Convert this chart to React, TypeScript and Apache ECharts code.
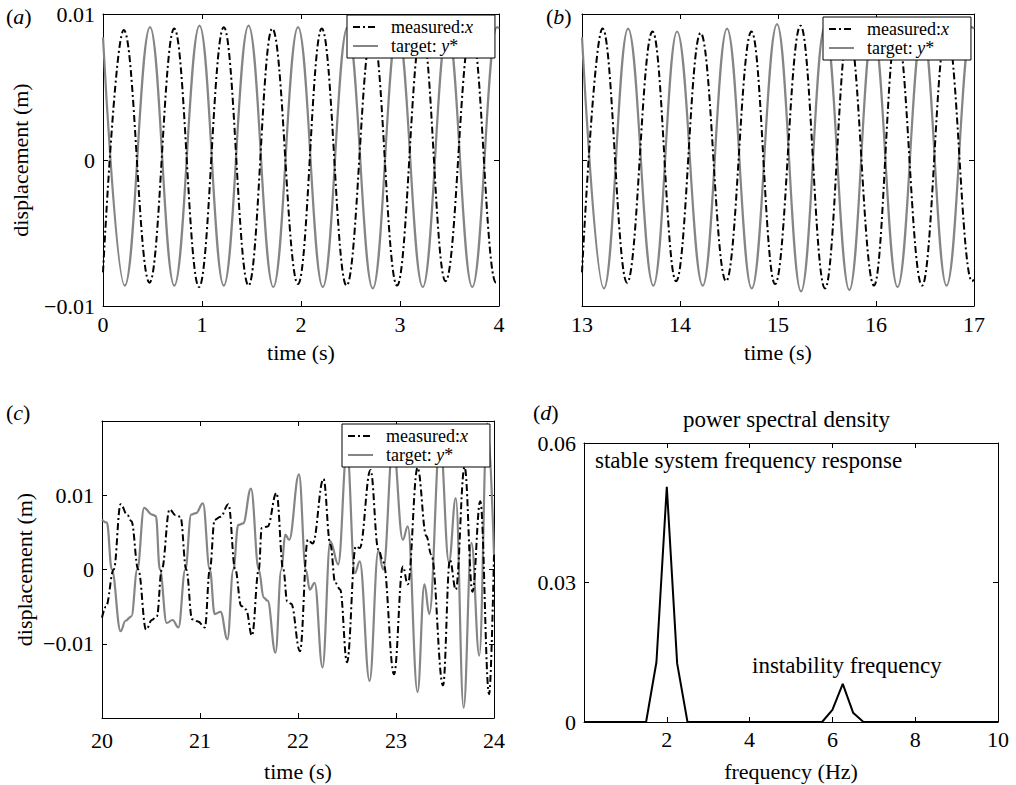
import React, { useEffect, useRef } from "react";
import * as echarts from "echarts";

const FONT = "'Liberation Serif', 'Times New Roman', Times, serif";
const GREY = "#858585";
const DASHDOT = [7, 3, 2, 3];

// ---- panel (a): 0-4 s ----
const aTargetT = [0, 0.22, 0.475, 0.72, 0.975, 1.22, 1.47, 1.72, 1.97, 2.22, 2.47, 2.725, 2.975, 3.23, 3.48, 3.73, 3.98, 4.0];
const aTargetV = [0.0084, -0.0086, 0.0091, -0.0086, 0.0092, -0.0086, 0.0092, -0.0087, 0.0091, -0.0087, 0.0091, -0.0088, 0.0091, -0.0087, 0.0091, -0.0087, 0.0091, 0.009];
const aMeasT = [0, 0.21, 0.47, 0.72, 0.97, 1.22, 1.47, 1.71, 1.97, 2.21, 2.46, 2.72, 2.97, 3.22, 3.46, 3.72, 3.97, 4.0];
const aMeasV = [-0.0077, 0.0089, -0.0084, 0.009, -0.0087, 0.0091, -0.0086, 0.009, -0.0085, 0.009, -0.0086, 0.009, -0.0086, 0.009, -0.0083, 0.009, -0.0084, -0.0083];

// ---- panel (b): 13-17 s ----
const bTargetT = [13.0, 13.224, 13.47, 13.728, 13.97, 14.232, 14.48, 14.732, 14.99, 15.235, 15.48, 15.728, 15.97, 16.22, 16.475, 16.72, 16.975, 17.0];
const bTargetV = [0.0084, -0.0088, 0.009, -0.0086, 0.0088, -0.0086, 0.009, -0.0088, 0.0093, -0.009, 0.0092, -0.0089, 0.0091, -0.0087, 0.0091, -0.0086, 0.0091, 0.009];
const bMeasT = [13.0, 13.21, 13.46, 13.72, 13.96, 14.21, 14.47, 14.73, 14.97, 15.23, 15.48, 15.72, 15.98, 16.21, 16.47, 16.72, 16.98, 17.0];
const bMeasV = [-0.0077, 0.009, -0.0084, 0.0088, -0.0083, 0.0087, -0.0083, 0.0088, -0.0085, 0.0092, -0.0088, 0.009, -0.0086, 0.009, -0.0086, 0.009, -0.0083, -0.0082];

// ---- panel (c): 20-24 s ----
const cTargetT = [20.0, 20.05, 20.1, 20.19, 20.24, 20.3, 20.36, 20.43, 20.51, 20.55, 20.59, 20.66, 20.72, 20.78, 20.85, 20.91, 20.96, 21.03, 21.1, 21.15, 21.21, 21.28, 21.34, 21.39, 21.44, 21.52, 21.6, 21.65, 21.69, 21.77, 21.83, 21.87, 21.91, 22.01, 22.08, 22.12, 22.17, 22.25, 22.33, 22.41, 22.5, 22.58, 22.63, 22.73, 22.82, 22.87, 22.97, 23.07, 23.12, 23.22, 23.29, 23.34, 23.45, 23.54, 23.61, 23.69, 23.77, 23.85, 23.93, 24.0];
const cTargetV = [0.0067, 0.0063, 0, -0.0083, -0.0069, -0.0063, 0, 0.0083, 0.0074, 0.0072, 0, -0.0072, -0.0068, -0.0078, 0, 0.0074, 0.0076, 0.0089, 0, -0.006, -0.0057, -0.0094, 0, 0.006, 0.0062, 0.0109, 0, -0.0038, -0.0042, -0.0112, 0, 0.0047, 0.004, 0.0128, 0, -0.0027, -0.0018, -0.0132, 0.0038, 0.0007, 0.0162, -0.0005, 0.0011, -0.015, 0.0025, 0.0, 0.017, 0.004, 0.0058, -0.0165, -0.002, -0.006, 0.0175, 0.001, 0.0096, -0.0186, 0.0036, -0.0116, 0.0197, 0.002];
const cMeasT = [20.0, 20.04, 20.12, 20.19, 20.26, 20.3, 20.37, 20.45, 20.51, 20.56, 20.61, 20.69, 20.75, 20.8, 20.86, 20.92, 20.98, 21.05, 21.1, 21.15, 21.21, 21.29, 21.36, 21.42, 21.47, 21.53, 21.6, 21.63, 21.69, 21.78, 21.85, 21.89, 21.93, 22.02, 22.1, 22.15, 22.26, 22.33, 22.38, 22.43, 22.5, 22.59, 22.63, 22.74, 22.82, 22.87, 22.98, 23.07, 23.12, 23.22, 23.31, 23.36, 23.48, 23.55, 23.61, 23.7, 23.78, 23.86, 23.95, 24.0];
const cMeasV = [-0.0065, -0.005, 0, 0.0088, 0.0073, 0.0065, 0, -0.0081, -0.0068, -0.0063, 0, 0.0081, 0.0073, 0.0071, 0, -0.0067, -0.007, -0.0078, 0, 0.0067, 0.0071, 0.0088, 0, -0.0049, -0.0054, -0.0089, 0, 0.0056, 0.0058, 0.0103, 0, -0.0043, -0.0046, -0.011, 0.004, 0.0035, 0.0122, 0.0034, -0.0018, -0.0027, -0.0125, 0.0031, 0.0029, 0.0134, 0.0027, 0.001, -0.0141, 0.0004, -0.002, 0.0137, 0.0045, 0.002, -0.0156, 0.0013, -0.0027, 0.0138, -0.003, 0.0092, -0.0168, 0.002];

// ---- panel (d): power spectral density ----
const psdF = [0, 1.5, 1.75, 2.0, 2.25, 2.5, 5.75, 6.0, 6.25, 6.5, 6.75, 10];
const psdV = [0, 0, 0.0129, 0.0506, 0.0126, 0, 0, 0.0026, 0.0082, 0.002, 0, 0];

const MEAS = "measured:x";
const TARG = "target: y*";

const zip = (t: number[], v: number[]) => t.map((x, i) => [x, v[i]]);

const fmt = (v: number) => {
  if (Math.abs(v) < 1e-9) return "0";
  const s = Math.abs(v).toFixed(2);
  return (v < 0 ? "\u2212" : "") + s;
};

const TXT = { color: "#000", fontFamily: FONT, fontSize: 22 };
const axLine = { show: true, onZero: false, lineStyle: { color: "#000", width: 1 } };
const axTick = { show: true, inside: true, length: 5, lineStyle: { color: "#000", width: 1 } };

function xPair(g: number, min: number, max: number, interval: number, name: string, nameGap: number, margin: number, formatter?: (v: number) => string) {
  return [
    {
      type: "value", gridIndex: g, min, max, interval, position: "bottom",
      axisLine: axLine, axisTick: axTick, splitLine: { show: false },
      axisLabel: { ...TXT, margin, formatter: formatter || ((v: number) => String(v)) },
      name, nameLocation: "middle", nameGap, nameTextStyle: { ...TXT },
    },
    {
      type: "value", gridIndex: g, min, max, interval, position: "top",
      axisLine: axLine, axisTick: axTick, splitLine: { show: false }, axisLabel: { show: false },
    },
  ];
}

function yPair(g: number, min: number, max: number, interval: number, showLabel: boolean, name: string, nameGap: number, formatter?: (v: number) => string) {
  return [
    {
      type: "value", gridIndex: g, min, max, interval, position: "left",
      axisLine: axLine, axisTick: axTick, splitLine: { show: false },
      axisLabel: { ...TXT, show: showLabel, margin: 8, formatter: formatter || fmt },
      name, nameLocation: "middle", nameGap, nameTextStyle: { ...TXT },
    },
    {
      type: "value", gridIndex: g, min, max, interval, position: "right",
      axisLine: axLine, axisTick: axTick, splitLine: { show: false }, axisLabel: { show: false },
    },
  ];
}

function pairSeries(xi: number, yi: number, mt: number[], mv: number[], tt: number[], tv: number[]) {
  return [
    {
      type: "line", name: TARG, xAxisIndex: xi, yAxisIndex: yi, data: zip(tt, tv),
      showSymbol: false, symbol: "none", smooth: 0.4, smoothMonotone: "x", clip: true,
      lineStyle: { color: GREY, width: 2.2, type: "solid" }, itemStyle: { color: GREY }, z: 2,
    },
    {
      type: "line", name: MEAS, xAxisIndex: xi, yAxisIndex: yi, data: zip(mt, mv),
      showSymbol: false, symbol: "none", smooth: 0.4, smoothMonotone: "x", clip: true,
      lineStyle: { color: "#000", width: 2, type: DASHDOT }, itemStyle: { color: "#000" }, z: 3,
    },
  ];
}

function legendAt(left: number, top: number) {
  return {
    data: [MEAS, TARG], orient: "vertical", left, top,
    itemWidth: 25, itemHeight: 10, itemGap: 1, selectedMode: false,
    itemStyle: { opacity: 0, borderWidth: 0 },
    backgroundColor: "#fff", borderColor: "#000", borderWidth: 1, borderRadius: 0,
    padding: [3, 22, 3, 5],
    formatter: (n: string) => (n === MEAS ? "measured:{i|x}" : "target: {i|y}*"),
    textStyle: {
      color: "#000", fontFamily: FONT, fontSize: 18, lineHeight: 17, padding: [0, 0, 0, 8],
      rich: { i: { fontStyle: "italic", fontFamily: FONT, fontSize: 18, color: "#000" } },
    },
  };
}

function panelLabel(x: number, y: number, letter: string) {
  return {
    type: "text", left: x, top: y,
    style: {
      text: "({i|" + letter + "})", fill: "#000", fontFamily: FONT, fontSize: 22,
      rich: { i: { fontStyle: "italic", fontFamily: FONT, fontSize: 22, fill: "#000" } },
    },
  };
}

function note(x: number, y: number, text: string) {
  return {
    type: "text", left: x, top: y,
    style: { text, fill: "#000", fontFamily: FONT, fontSize: 23 },
  };
}

export default function App() {
  const ref = useRef<HTMLDivElement>(null);
  useEffect(() => {
    document.body.style.margin = "0";
    if (!ref.current) return;
    const chart = echarts.init(ref.current, undefined, { renderer: "svg" });
    const option = {
      animation: false,
      backgroundColor: "#fff",
      textStyle: { fontFamily: FONT },
      grid: [
        { left: 103, top: 14, width: 396, height: 292 },
        { left: 582, top: 14, width: 392, height: 292 },
        { left: 102, top: 421, width: 392, height: 297 },
        { left: 584, top: 443, width: 414, height: 279 },
      ],
      xAxis: [
        ...xPair(0, 0, 4, 1, "time (s)", 35, 7),
        ...xPair(1, 13, 17, 1, "time (s)", 35, 7),
        ...xPair(2, 20, 24, 1, "time (s)", 42, 11),
        ...xPair(3, 0, 10, 2, "frequency (Hz)", 38, 6, (v: number) => (v === 0 ? "" : String(v))),
      ],
      yAxis: [
        ...yPair(0, -0.01, 0.01, 0.01, true, "displacement (m)", 72),
        ...yPair(1, -0.01, 0.01, 0.01, false, "", 0),
        ...yPair(2, -0.02, 0.02, 0.01, true, "displacement (m)", 67, (v: number) => (Math.abs(Math.abs(v) - 0.02) < 1e-9 ? "" : fmt(v))),
        ...yPair(3, 0, 0.06, 0.03, true, "", 0, (v: number) => (Math.abs(v) < 1e-9 ? "0" : v.toFixed(2))),
      ],
      legend: [legendAt(347, 15), legendAt(823, 17), legendAt(342, 424)],
      series: [
        ...pairSeries(0, 0, aMeasT, aMeasV, aTargetT, aTargetV),
        ...pairSeries(2, 2, bMeasT, bMeasV, bTargetT, bTargetV),
        ...pairSeries(4, 4, cMeasT, cMeasV, cTargetT, cTargetV),
        {
          type: "line", name: "psd", xAxisIndex: 6, yAxisIndex: 6, data: zip(psdF, psdV),
          showSymbol: false, symbol: "none", clip: true,
          lineStyle: { color: "#000", width: 2 }, itemStyle: { color: "#000" },
        },
      ],
      graphic: [
        panelLabel(6, 5, "a"),
        panelLabel(546, 5, "b"),
        panelLabel(6, 401, "c"),
        panelLabel(533, 401, "d"),
        note(683, 408, "power spectral density"),
        note(595, 449, "stable system frequency response"),
        note(752, 654, "instability frequency"),
      ],
    };
    chart.setOption(option as any);
    return () => chart.dispose();
  }, []);
  return <div ref={ref} style={{ width: 1016, height: 785 }} />;
}
